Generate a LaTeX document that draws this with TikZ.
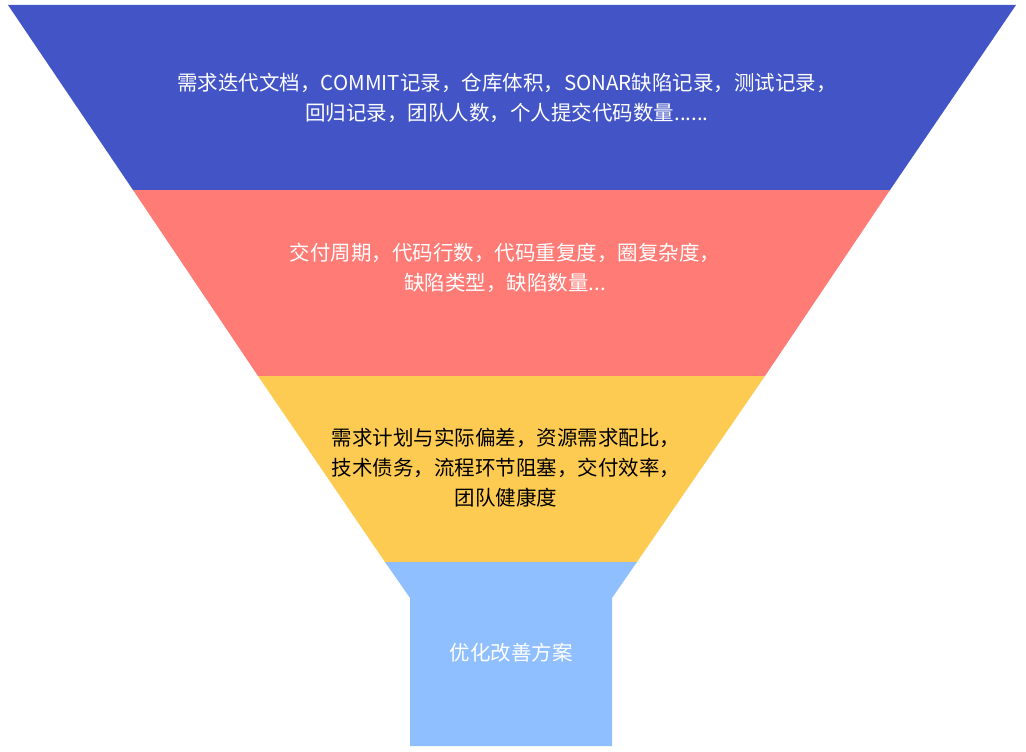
\documentclass[tikz,border=0pt]{standalone}
\usepackage{fontspec}
\setmainfont{Noto Sans CJK SC}[BoldFont={Noto Sans CJK SC Medium}]
\begin{document}
\begin{tikzpicture}[x=1pt,y=-1pt,
  lbl/.style={align=center,font=\fontsize{20.5}{30}\selectfont},
  wl/.style={lbl,text=white},bl/.style={lbl,text=black}]
\definecolor{cA}{RGB}{67,85,198}
\definecolor{cB}{RGB}{255,123,118}
\definecolor{cC}{RGB}{254,203,82}
\definecolor{cD}{RGB}{143,191,255}
\useasboundingbox (0,0) rectangle (1026,752);
\fill[cA] (8,5) -- (1016,5) -- (890,190) -- (133,190) -- cycle;
\fill[cB] (133,190) -- (890,190) -- (765,376) -- (258,376) -- cycle;
\fill[cC] (258,376) -- (765,376) -- (637,562) -- (385,562) -- cycle;
\fill[cD] (385,562) -- (637,562) -- (612,598) -- (612,746) -- (410,746) -- (410,598) -- cycle;
\node[wl] (t1) at (507,98) {需求迭代文档，COMMIT记录，仓库体积，SONAR缺陷记录，测试记录，\\回归记录，团队人数，个人提交代码数量......};
\node[wl] (t2) at (505,268) {交付周期，代码行数，代码重复度，圈复杂度，\\缺陷类型，缺陷数量...};
\node[bl] (t3) at (506,468) {需求计划与实际偏差，资源需求配比，\\技术债务，流程环节阻塞，交付效率，\\团队健康度};
\node[wl] (t4) at (511,653) {优化改善方案};
\end{tikzpicture}
\end{document}
